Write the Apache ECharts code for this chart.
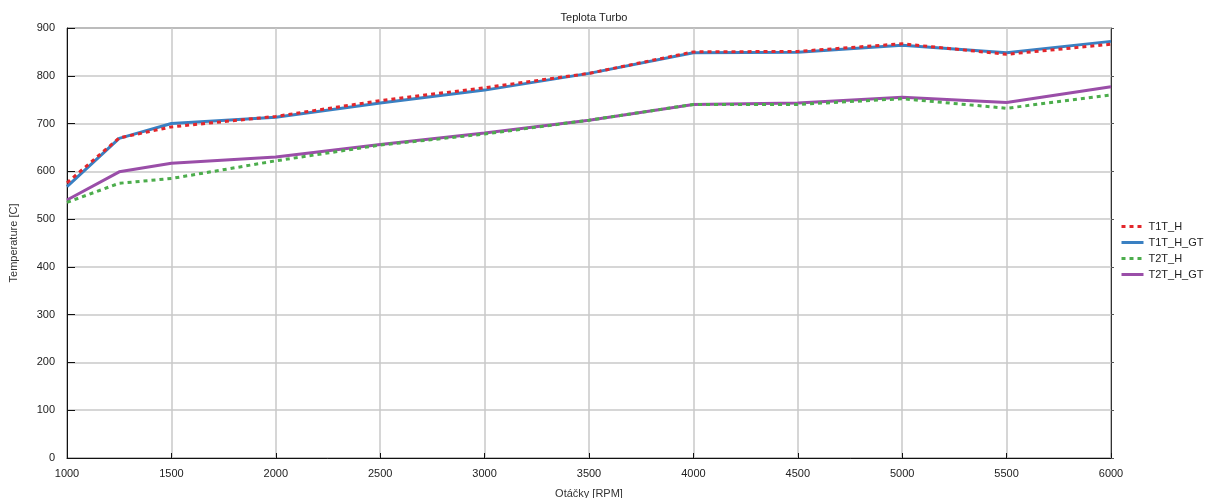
<!DOCTYPE html>
<html><head><meta charset="utf-8">
<script src="https://cdn.jsdelivr.net/npm/echarts@6/dist/echarts.min.js"></script>
<style>html,body{margin:0;padding:0;background:#fff}#c{width:1206px;height:498px}</style>
</head><body><div id="c"></div>
<script>
const rpm = [1000, 1250, 1500, 2000, 2500, 3000, 3500, 4000, 4500, 5000, 5500, 6000];
const T1T_H    = [576, 670, 693, 715, 748, 775, 805, 850, 851, 867, 845, 866];
const T1T_H_GT = [568, 669, 700, 713, 743, 770, 805, 848, 849, 864, 848, 872];
const T2T_H    = [535, 575, 585, 622, 655, 678, 707, 740, 740, 752, 732, 760];
const T2T_H_GT = [540, 599, 617, 630, 656, 680, 707, 740, 743, 755, 744, 777];
const seriesNames = ['T1T_H', 'T1T_H_GT', 'T2T_H', 'T2T_H_GT'];
const seriesData = [T1T_H, T1T_H_GT, T2T_H, T2T_H_GT];
const colors = ['#e3262b', '#3a80c2', '#4cad4c', '#9a4ea8'];
const dashed = [true, false, true, false];

const font = 'Liberation Sans, Arial, sans-serif';
const chart = echarts.init(document.getElementById('c'));
chart.setOption({
  animation: false,
  backgroundColor: '#fff',
  title: { text: 'Teplota Turbo', left: 589, top: 7, textAlign: 'center',
    textStyle: { fontFamily: font, fontSize: 11, fontWeight: 'normal', color: '#222' } },
  grid: { left: 67, right: 95, top: 28, bottom: 40, show: true, borderColor: '#333', borderWidth: 1,
    outerBoundsMode: 'none', containLabel: false },
  legend: {
    orient: 'vertical', left: 1120, top: 221, itemWidth: 22, itemHeight: 10, itemGap: 5,
    padding: 0,
    itemStyle: { opacity: 0, borderWidth: 0 },
    lineStyle: { width: 3 },
    textStyle: { fontFamily: font, fontSize: 11, color: '#222' },
    data: seriesNames
  },
  xAxis: {
    type: 'value', min: 1000, max: 6000, interval: 500,
    name: 'Otáčky [RPM]', nameLocation: 'middle', nameGap: 30,
    nameTextStyle: { fontFamily: font, fontSize: 11, color: '#333' },
    axisLine: { lineStyle: { color: '#111', width: 1 } },
    axisTick: { inside: true, length: 5, lineStyle: { color: '#111' } },
    axisLabel: { fontFamily: font, fontSize: 11, color: '#222', margin: 10, formatter: v => String(v) },
    splitLine: { show: true, lineStyle: { color: '#c8c8c8', width: 1.5 } }
  },
  yAxis: [{
    type: 'value', min: 0, max: 900, interval: 100,
    name: 'Temperature [C]', nameLocation: 'middle', nameGap: 48, nameRotate: 90,
    nameTextStyle: { fontFamily: font, fontSize: 11, color: '#333' },
    axisLine: { show: true, lineStyle: { color: '#111', width: 1 } },
    axisTick: { show: true, inside: true, length: 8, lineStyle: { color: '#111' } },
    axisLabel: { fontFamily: font, fontSize: 11, color: '#222', margin: 12 },
    splitLine: { show: true, lineStyle: { color: '#c8c8c8', width: 1.5 } }
  }, {
    type: 'value', min: 0, max: 900, interval: 100, position: 'right',
    axisLine: { show: true, lineStyle: { color: '#333', width: 1 } },
    axisTick: { show: true, inside: false, length: 3, lineStyle: { color: '#555' } },
    axisLabel: { show: false }, splitLine: { show: false }
  }],
  series: seriesNames.map((n, i) => ({
    name: n, type: 'line', yAxisIndex: 0, symbol: 'none', color: colors[i],
    data: rpm.map((x, j) => [x, seriesData[i][j]]),
    z: dashed[i] ? 3 : 2,
    lineStyle: { width: 3, color: colors[i], type: dashed[i] ? [4, 4] : 'solid' }
  }))
});
</script></body></html>
